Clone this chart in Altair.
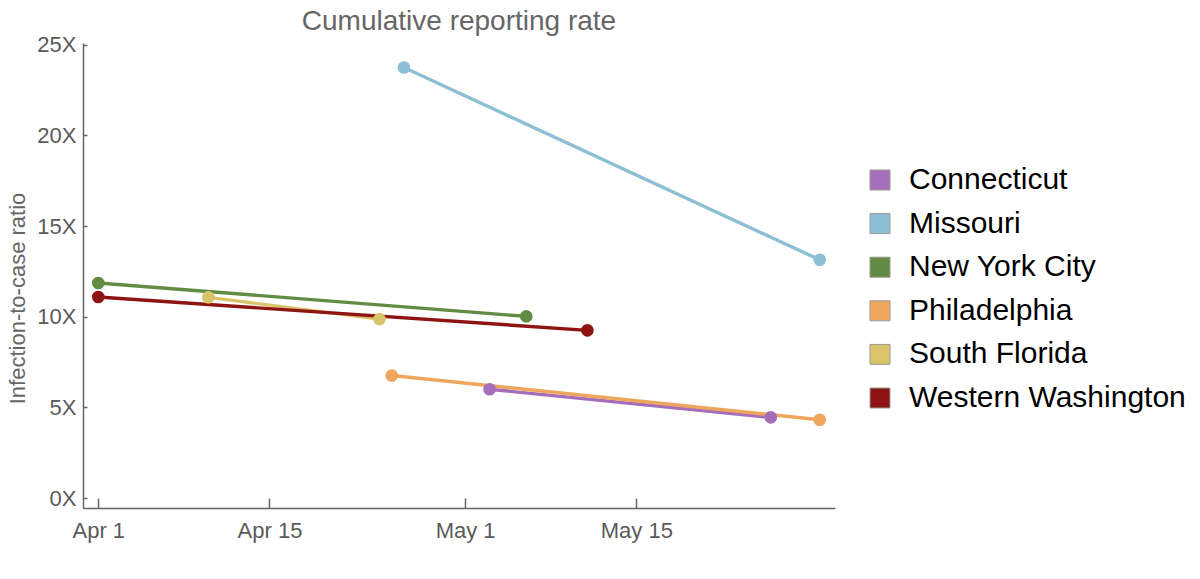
import altair as alt
import pandas as pd

regions = ["Connecticut", "Missouri", "New York City", "Philadelphia",
           "South Florida", "Western Washington"]
colors = ["#a66dba", "#8dbfd4", "#628b43", "#eda65c", "#d9c46a", "#8e1414"]
start_dates = ["2020-05-03", "2020-04-26", "2020-04-01", "2020-04-25",
               "2020-04-10", "2020-04-01"]
end_dates = ["2020-05-26", "2020-05-30", "2020-05-06", "2020-05-30",
             "2020-04-24", "2020-05-11"]
start_vals = [6.0, 23.75, 11.86, 6.76, 11.07, 11.09]
end_vals = [4.45, 13.14, 10.02, 4.32, 9.87, 9.25]
x_ticks = ["2020-04-01", "2020-04-15", "2020-05-01", "2020-05-15"]
y_ticks = [0, 5, 10, 15, 20, 25]

rows = []
for r, c, sd, ed, sv, ev in zip(regions, colors, start_dates, end_dates, start_vals, end_vals):
    rows.append({"region": r, "lc": c, "date": sd + "T00:00:00Z", "ratio": sv})
    rows.append({"region": r, "lc": c, "date": ed + "T00:00:00Z", "ratio": ev})
df = pd.DataFrame(rows)

FONT = "Liberation Sans"
GRAY = "#666666"

x_enc = alt.X(
    "date:T",
    scale=alt.Scale(type="utc", domain=["2020-03-30T18:00:00Z", "2020-05-31T06:00:00Z"], nice=False),
    axis=alt.Axis(
        title=None,
        values=[alt.DateTime(year=int(d[:4]), month=int(d[5:7]), date=int(d[8:10]), utc=True) for d in x_ticks],
        format="%b %-d",
        tickSize=alt.ExprRef("-10"),
        labelPadding=22,
    ),
)
y_enc = alt.Y(
    "ratio:Q",
    scale=alt.Scale(domain=[-0.55, 25.1], nice=False, zero=False),
    axis=alt.Axis(
        title="Infection-to-case ratio",
        values=y_ticks,
        labelExpr="datum.value + 'X'",
        tickSize=alt.ExprRef("-4"),
        labelPadding=11,
        titleAngle=270,
        titleBaseline="alphabetic",
        titleAlign="center",
        titleX=-59,
        titleY=255,
        titleFontSize=22,
        titleFontWeight="normal",
        titleColor=GRAY,
        titleFont=FONT,
    ),
)

lines = alt.Chart(df).mark_line(strokeWidth=3.4).encode(
    x=x_enc, y=y_enc,
    stroke=alt.Stroke("lc:N", scale=None),
    detail="region:N",
)
points = alt.Chart(df).mark_point(filled=True, size=160, opacity=1).encode(
    x=x_enc, y=y_enc,
    color=alt.Color(
        "region:N", scale=alt.Scale(domain=regions, range=colors),
        legend=alt.Legend(
            title=None, orient="none", legendX=782, legendY=122,
            symbolType="square", symbolSize=400, symbolStrokeColor="#999999",
            symbolStrokeWidth=1, symbolOpacity=1,
            labelFontSize=30, labelColor="black", labelFont=FONT, labelLimit=0,
            labelOffset=14, rowPadding=13.6, padding=0,
        ),
    ),
)

chart = alt.layer(lines, points).properties(
    width=752, height=465,
    autosize=alt.AutoSizeParams(type="none"),
    padding={"left": 83, "top": 43, "right": 365, "bottom": 71},
    background="white",
    title=alt.TitleParams("Cumulative reporting rate", fontSize=28, color=GRAY,
                          font=FONT, fontWeight="normal", anchor="middle", dy=6),
).configure_view(stroke=None).configure_axis(
    grid=False, domainColor=GRAY, domainWidth=1.5, tickColor=GRAY, tickWidth=1.5,
    labelFont=FONT, labelFontSize=22, labelColor="#5a5a5a",
)

chart.save("out.html", embed_options={"renderer": "svg", "actions": False})
